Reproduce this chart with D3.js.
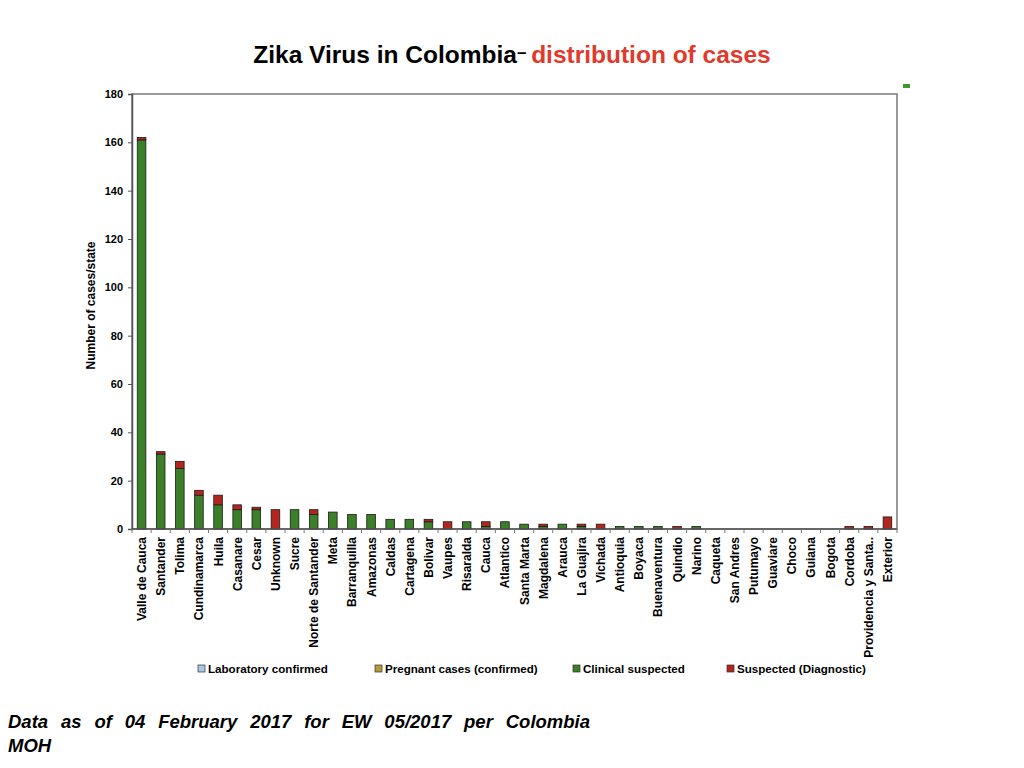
<!DOCTYPE html>
<html>
<head>
<meta charset="utf-8">
<script src="https://cdn.jsdelivr.net/npm/d3@7"></script>
<style>
  body { margin: 0; background: #fff; font-family: "Liberation Sans", Arial, sans-serif; }
</style>
</head>
<body>
<div class="canva"></div>
<script>
// data
const states = ["Valle de Cauca", "Santander", "Tolima", "Cundinamarca", "Huila", "Casanare", "Cesar",
    "Unknown", "Sucre", "Norte de Santander", "Meta", "Barranquilla", "Amazonas", "Caldas", "Cartagena",
    "Bolivar", "Vaupes", "Risaralda", "Cauca", "Atlantico", "Santa Marta", "Magdalena", "Arauca",
    "La Guajira", "Vichada", "Antioquia", "Boyaca", "Buenaventura", "Quindio", "Narino", "Caqueta",
    "San Andres", "Putumayo", "Guaviare", "Choco", "Guiana", "Bogota", "Cordoba",
    "Providencia y Santa..", "Exterior"];
const labConfirmed = new Array(40).fill(0);
const pregnantConfirmed = new Array(40).fill(0);
const clinicalSuspected = [161, 31, 25, 14, 10, 8, 8, 0, 8, 6, 7, 6, 6, 4, 4, 3, 0, 3, 1, 3, 2, 1, 2,
    1, 0, 1, 1, 1, 0, 1, 0, 0, 0, 0, 0, 0, 0, 0, 0, 0];
const suspectedDiag = [1, 1, 3, 2, 4, 2, 1, 8, 0, 2, 0, 0, 0, 0, 0, 1, 3, 0, 2, 0, 0, 1, 0,
    1, 2, 0, 0, 0, 1, 0, 0, 0, 0, 0, 0, 0, 0, 1, 1, 5];
const yTicks = [0, 20, 40, 60, 80, 100, 120, 140, 160, 180];

const series = [
    { key: "lab", name: "Laboratory confirmed", values: labConfirmed, color: "#a9c6e4" },
    { key: "preg", name: "Pregnant cases (confirmed)", values: pregnantConfirmed, color: "#b59a3c" },
    { key: "clin", name: "Clinical suspected", values: clinicalSuspected, color: "#3b7f28" },
    { key: "susp", name: "Suspected (Diagnostic)", values: suspectedDiag, color: "#b3261e" }
];

const rows = states.map((s, i) => {
    const r = { state: s };
    series.forEach(se => r[se.key] = se.values[i]);
    return r;
});

const svg = d3.select(".canva").append("svg")
    .attr("width", 1024)
    .attr("height", 768)
    .style("font-family", "'Liberation Sans', Arial, sans-serif");

const margin = { top: 94, left: 132, right: 127, bottom: 239 };
const graphWidth = 1024 - margin.left - margin.right;
const graphHeight = 768 - margin.top - margin.bottom;

const graph = svg.append("g")
    .attr("transform", `translate(${margin.left}, ${margin.top})`);

const x = d3.scaleBand()
    .domain(states)
    .range([0, graphWidth])
    .paddingInner(0.55)
    .paddingOuter(0.275);

const y = d3.scaleLinear()
    .domain([0, 180])
    .range([graphHeight, 0]);

// frame
graph.append("rect")
    .attr("width", graphWidth)
    .attr("height", graphHeight)
    .attr("fill", "none")
    .attr("stroke", "#7a7a7a")
    .attr("stroke-width", 1.5);

const stack = d3.stack().keys(series.map(s => s.key));
const layers = stack(rows);

graph.selectAll(".layer")
    .data(layers)
    .enter()
    .append("g")
    .attr("class", "layer")
    .attr("fill", (d, i) => series[i].color)
    .selectAll("rect")
    .data(d => d.filter(p => p[1] - p[0] > 0))
    .enter()
    .append("rect")
    .attr("x", d => x(d.data.state))
    .attr("y", d => y(d[1]))
    .attr("width", x.bandwidth())
    .attr("height", d => y(d[0]) - y(d[1]))
    .attr("stroke", "#1a1a1a")
    .attr("stroke-width", 0.8);

// y axis
const yAxisGroup = graph.append("g")
    .call(d3.axisLeft(y).tickValues(yTicks).tickSize(4).tickPadding(5));
yAxisGroup.select(".domain").attr("stroke", "#555").attr("stroke-width", 1.5);
yAxisGroup.selectAll(".tick line").attr("stroke", "#555");
yAxisGroup.selectAll("text")
    .style("font-size", "11px")
    .style("font-weight", "bold")
    .attr("fill", "#000");

// x axis: ticks at category boundaries
const xAxisGroup = graph.append("g")
    .attr("transform", `translate(0, ${graphHeight})`);
xAxisGroup.append("line")
    .attr("x1", 0).attr("x2", graphWidth)
    .attr("stroke", "#555").attr("stroke-width", 1.5);
const step = x.step();
xAxisGroup.selectAll(".sep")
    .data(d3.range(states.length + 1))
    .enter()
    .append("line")
    .attr("class", "sep")
    .attr("x1", i => i * step)
    .attr("x2", i => i * step)
    .attr("y1", 0)
    .attr("y2", 4)
    .attr("stroke", "#777");

xAxisGroup.selectAll(".lbl")
    .data(states)
    .enter()
    .append("text")
    .attr("class", "lbl")
    .attr("transform", d => `translate(${x(d) + x.bandwidth() / 2 + 4.5}, 8) rotate(-90)`)
    .attr("text-anchor", "end")
    .style("font-size", "12px")
    .style("font-weight", "bold")
    .attr("fill", "#000")
    .text(d => d);

// y axis title
svg.append("text")
    .attr("transform", `translate(95, ${margin.top + graphHeight / 2 - 6}) rotate(-90)`)
    .attr("text-anchor", "middle")
    .style("font-size", "12px")
    .style("font-weight", "bold")
    .text("Number of cases/state");

// title
const title = svg.append("text")
    .attr("x", 512)
    .attr("y", 63)
    .attr("text-anchor", "middle")
    .style("font-size", "24.5px")
    .style("font-weight", "bold");
title.append("tspan").attr("fill", "#000").text("Zika Virus in Colombia");
title.append("tspan").attr("fill", "#000").attr("dy", -5).style("font-size", "17px").text("\u2013 ");
title.append("tspan").attr("fill", "#e03a2c").attr("dy", 5).text(" distribution of cases");

// small green mark top right
svg.append("rect")
    .attr("x", 903).attr("y", 84)
    .attr("width", 7).attr("height", 4)
    .attr("fill", "#3f9a2e");

// legend
const legendX = [198, 375, 573, 727];
const legend = svg.append("g").attr("transform", "translate(0, 669)");
series.forEach((s, i) => {
    const row = legend.append("g").attr("transform", `translate(${legendX[i]}, 0)`);
    row.append("rect")
        .attr("x", 0).attr("y", -4)
        .attr("width", 7).attr("height", 7)
        .attr("fill", s.color)
        .attr("stroke", "#333")
        .attr("stroke-width", 0.7);
    row.append("text")
        .attr("x", 10)
        .attr("y", 4)
        .style("font-size", "11.6px")
        .style("font-weight", "bold")
        .text(s.name);
});

// footer note, justified with word spacing
const noteText = "Data as of 04 February 2017 for EW 05/2017 per Colombia";
const note = svg.append("text")
    .attr("x", 8)
    .attr("y", 728)
    .style("font-size", "18.5px")
    .style("font-weight", "bold")
    .style("font-style", "italic")
    .text(noteText);
const noteWidth = note.node().getComputedTextLength();
const gaps = noteText.split(" ").length - 1;
note.style("word-spacing", `${(582 - noteWidth) / gaps}px`);
svg.append("text")
    .attr("x", 8)
    .attr("y", 752)
    .style("font-size", "18.5px")
    .style("font-weight", "bold")
    .style("font-style", "italic")
    .text("MOH");
</script>
</body>
</html>
